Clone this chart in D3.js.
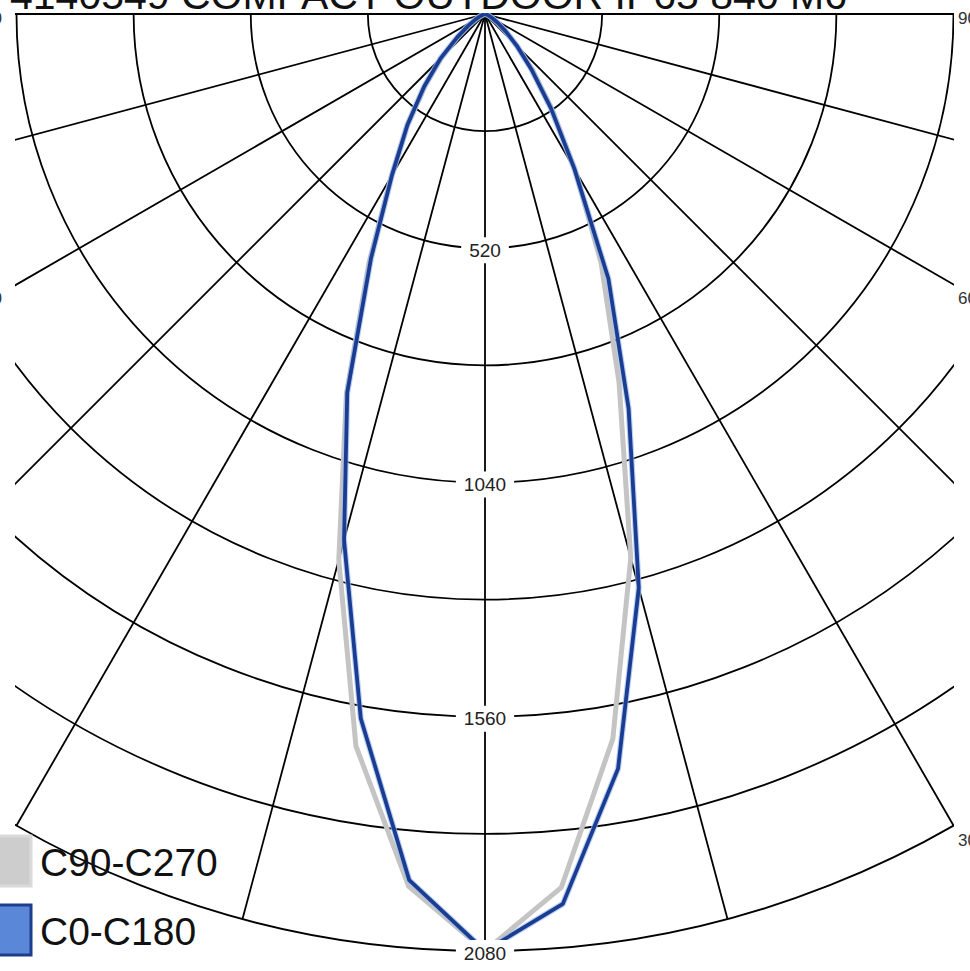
<!DOCTYPE html>
<html><head><meta charset="utf-8">
<script src="https://cdn.jsdelivr.net/npm/d3@7"></script>
<style>body{margin:0;background:#fff}svg{display:block}</style>
</head><body>
<svg id="chart" width="970" height="971"></svg>
<script>
// ---------- data ----------
const titleText = "4140549 COMPACT OUTDOOR IP65 840 M6";
const gammaAngles = [0,5,10,15,20,25,30,35,40,45,50,55,60,65,70,75,80,85,90];
// C0-C180 (blue): right half = C0, left half = C180
const c0Values   = [2080,1983,1701,1319,932,648,397,255,160,100,60,35,20,10,5,0,0,0,0];
const c180Values = [2080,1930,1588,1209,894,599,413,300,210,140,80,45,25,12,5,0,0,0,0];
// C90-C270 (grey): right half = C90, left half = C270
const c90Values  = [2080,1946,1634,1250,870,610,400,260,165,100,60,35,20,10,5,0,0,0,0];
const c270Values = [2080,1944,1650,1254,900,610,415,300,205,135,80,45,25,12,5,0,0,0,0];
const ringValues = [260,520,780,1040,1300,1560,1820,2080];
const ringLabelValues = [520,1040,1560,2080];
const radialAngles = [-90,-75,-60,-45,-30,-15,0,15,30,45,60,75,90];
const edgeLabelAngles = [90,60,30];
const edgeLabelTexts = ["90","60","30"];
const legendNames = ["C90-C270","C0-C180"];
const legendFills = ["#cdcdcd","#5b87d8"];
const legendStrokes = ["#dadada","#1c3e8c"];

// ---------- layout ----------
const W = 970, H = 971;
const cx = 485, cy = 14;
const maxValue = 2080;
const rScale = d3.scaleLinear().domain([0, maxValue]).range([0, 937]);
const aScale = d3.scaleLinear().domain([-180, 180]).range([-Math.PI, Math.PI]);
const clip = {x0: 15, x1: 954, y0: 13, y1: 971};

const svg = d3.select("#chart");
const font = "'Liberation Sans', Arial, sans-serif";

svg.append("defs").append("clipPath").attr("id","plotClip")
  .append("rect").attr("x",clip.x0).attr("y",clip.y0)
  .attr("width",clip.x1-clip.x0).attr("height",clip.y1-clip.y0);

function pt(angleDeg, value){
  const a = aScale(angleDeg), r = rScale(value);
  return [cx + r*Math.sin(a), cy + r*Math.cos(a)];
}

// title
svg.append("text").attr("x",10).attr("y",9)
  .attr("font-family",font).attr("font-size",41).attr("fill","#111")
  .text(titleText);

const plot = svg.append("g").attr("clip-path","url(#plotClip)");

// rings
ringValues.forEach(v=>{
  const p = d3.path();
  p.arc(cx, cy, rScale(v), 0, Math.PI);
  plot.append("path").attr("d", p.toString())
    .attr("fill","none").attr("stroke","#000").attr("stroke-width",1.8);
});

// radial lines
plot.selectAll("line.radial").data(radialAngles).join("line")
  .attr("class","radial")
  .attr("x1",cx).attr("y1",cy)
  .attr("x2",d=>pt(d,maxValue)[0]).attr("y2",d=>pt(d,maxValue)[1])
  .attr("stroke","#000").attr("stroke-width",1.8);

// curves
const line = d3.line().x(d=>d[0]).y(d=>d[1]);
function curvePoints(leftVals, rightVals){
  const pts = [];
  for(let i=gammaAngles.length-1;i>=0;i--) pts.push(pt(-gammaAngles[i], leftVals[i]));
  for(let i=1;i<gammaAngles.length;i++) pts.push(pt(gammaAngles[i], rightVals[i]));
  return pts;
}
plot.append("path").attr("d", line(curvePoints(c270Values, c90Values)))
  .attr("fill","none").attr("stroke","#c4c4c4").attr("stroke-width",5)
  .attr("stroke-linejoin","round");
plot.append("path").attr("d", line(curvePoints(c180Values, c0Values)))
  .attr("fill","none").attr("stroke","#9dbbee").attr("stroke-width",6)
  .attr("stroke-linejoin","round").attr("opacity",0.7);
plot.append("path").attr("d", line(curvePoints(c180Values, c0Values)))
  .attr("fill","none").attr("stroke","#1b3d91").attr("stroke-width",3.8)
  .attr("stroke-linejoin","round");

// ring labels
ringLabelValues.forEach(v=>{
  const y = cy + rScale(v) + 2;
  const g = svg.append("g");
  const t = g.append("text").attr("x",cx).attr("y",y)
    .attr("text-anchor","middle").attr("dominant-baseline","central")
    .attr("font-family",font).attr("font-size",19).attr("fill","#222").text(v);
  const bb = t.node().getBBox();
  g.insert("rect","text").attr("x",bb.x-8).attr("y",y-13)
    .attr("width",bb.width+16).attr("height",26).attr("fill","#fff");
});

// edge labels (angle labels at the plot border)
edgeLabelAngles.forEach((a,i)=>{
  const rad = aScale(a);
  const t = (clip.x1 - cx)/Math.sin(rad);
  const yExit = cy + t*Math.cos(rad);
  const off = a===90 ? 4 : 14;
  svg.append("text").attr("x",clip.x1+4).attr("y",yExit+off)
    .attr("dominant-baseline","central")
    .attr("font-family",font).attr("font-size",17).attr("fill","#333").text(edgeLabelTexts[i]);
  svg.append("text").attr("x",2).attr("y",yExit+off)
    .attr("text-anchor","end").attr("dominant-baseline","central")
    .attr("font-family",font).attr("font-size",17).attr("fill","#333").text(edgeLabelTexts[i]);
});

// legend
legendNames.forEach((name,i)=>{
  const y0 = 836 + i*69;
  svg.append("rect").attr("x",-17).attr("y",y0).attr("width",48).attr("height",50)
    .attr("fill",legendFills[i]).attr("stroke",legendStrokes[i]).attr("stroke-width",3);
  svg.append("text").attr("x",40).attr("y",y0+40)
    .attr("font-family",font).attr("font-size",39).attr("fill","#111").text(name);
});
</script>
</body></html>
